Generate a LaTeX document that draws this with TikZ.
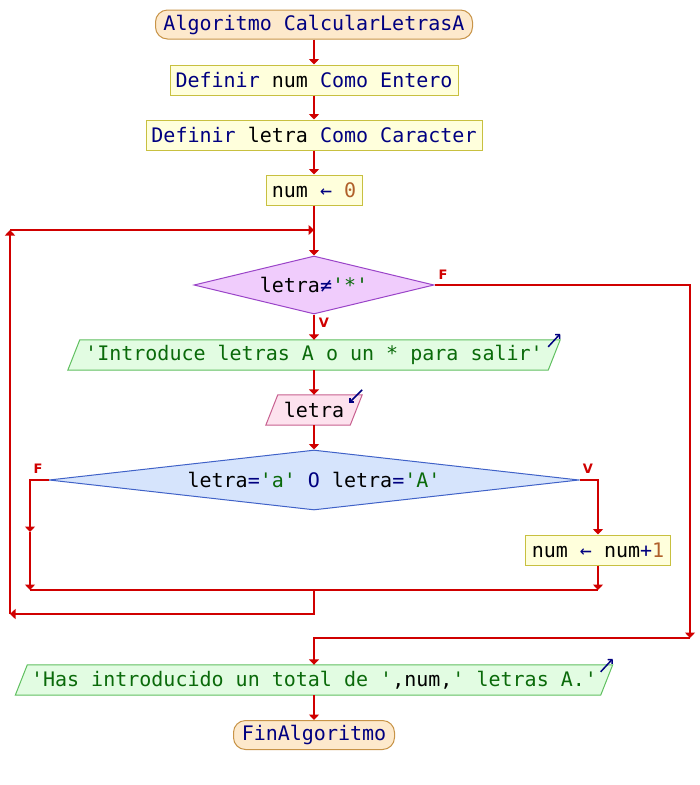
\documentclass[tikz,border=0pt]{standalone}
\usepackage{fontspec}
\setmonofont{DejaVu Sans Mono}
\setsansfont{DejaVu Sans}
\usetikzlibrary{arrows.meta,shapes.geometric,backgrounds,calc}

\definecolor{flowred}{HTML}{D00000}
\definecolor{kwblue}{HTML}{000080}
\definecolor{strgreen}{HTML}{0A6A0A}
\definecolor{numbrown}{HTML}{B0602A}
\definecolor{termfill}{HTML}{FDE9CC}
\definecolor{termline}{HTML}{C89448}
\definecolor{procfill}{HTML}{FFFFDC}
\definecolor{procline}{HTML}{C8C040}
\definecolor{dafill}{HTML}{F0CCFC}
\definecolor{daline}{HTML}{9A44C8}
\definecolor{dbfill}{HTML}{D6E4FC}
\definecolor{dbline}{HTML}{4062C8}
\definecolor{outfill}{HTML}{E2FCE2}
\definecolor{outline}{HTML}{60C060}
\definecolor{infill}{HTML}{FDE2EE}
\definecolor{inline}{HTML}{C86090}
\definecolor{iomark}{HTML}{000080}

\newcommand{\kwd}[1]{\textcolor{kwblue}{#1}}
\newcommand{\strl}[1]{\textcolor{strgreen}{#1}}
\newcommand{\numl}[1]{\textcolor{numbrown}{#1}}

\begin{document}
\begin{tikzpicture}[x=1pt,y=-1pt,
  base/.style={font=\ttfamily\fontsize{20}{22}\selectfont, inner sep=0pt, align=center},
  terminal/.style={base, draw=termline, fill=termfill, line width=1pt, rounded corners=12pt, minimum height=29pt},
  process/.style={base, draw=procline, fill=procfill, line width=1pt, minimum height=30pt},
  decision/.style={base, shape=diamond, line width=1pt},
  io/.style={base, minimum height=30pt},
  link/.style={draw=flowred, line width=2pt},
  flow/.style={link, -{Triangle[length=5.5pt,width=10pt]}},
  iotick/.style={draw=iomark, line width=1.5pt, -{Straight Barb[length=3pt,width=6pt]}},
  branch/.style={font=\sffamily\bfseries\fontsize{13}{13}\selectfont, text=flowred, inner sep=0pt}
]
\useasboundingbox (0,0) rectangle (700,785);

% ---- nodes ----
\node[terminal, minimum width=317pt] (start) at (314,24.5) {\kwd{Algoritmo CalcularLetrasA}};
\node[process, minimum width=288pt] (def1) at (314,80) {\kwd{Definir} num \kwd{Como Entero}};
\node[process, minimum width=336pt] (def2) at (314,135) {\kwd{Definir} letra \kwd{Como Caracter}};
\node[process, minimum width=96pt] (init) at (314,190) {num \kwd{←} \numl{0}};
\node[decision, aspect=4.14, draw=daline, fill=dafill, minimum width=240pt, minimum height=58pt] (cond1) at (314,285) {letra\kwd{≠}\strl{'*'}};
\node[io, minimum width=480pt] (out1) at (314,355) {\strl{'Introduce letras A o un * para salir'}};
\node[io, minimum width=84pt] (in1) at (314,410) {letra};
\node[decision, aspect=8.83, draw=dbline, fill=dbfill, minimum width=530pt, minimum height=60pt] (cond2) at (314,480) {letra\kwd{=}\strl{'a'} \kwd{O} letra\kwd{=}\strl{'A'}};
\node[process, minimum width=145pt] (inc) at (598,550) {num \kwd{←} num\kwd{+}\numl{1}};
\node[io, minimum width=585pt] (out2) at (314,680) {\strl{'Has introducido un total de '},num,\strl{' letras A.'}};
\node[terminal, minimum width=161pt] (stop) at (314,735) {\kwd{FinAlgoritmo}};

% ---- page and parallelogram bodies, kept behind the text ----
\begin{scope}[on background layer]
  \fill[white] (0,0) rectangle (700,785);
  \foreach \n/\f/\l in {out1/outfill/outline, in1/infill/inline, out2/outfill/outline}{
    \filldraw[fill=\f, draw=\l, line width=1pt]
      ($(\n.south west)+(-6,0)$) -- ($(\n.north west)+(6,0)$) --
      ($(\n.north east)+(6,0)$) -- ($(\n.south east)+(-6,0)$) -- cycle;
  }
\end{scope}

% ---- input / output marks ----
\draw[iotick] ($(out1.north east)+(-6,7)$) -- ($(out1.north east)+(6,-6)$);
\draw[iotick] ($(in1.north east)+(6,-5)$) -- ($(in1.north east)+(-7,8)$);
\draw[iotick] ($(out2.north east)+(-6,7)$) -- ($(out2.north east)+(6,-6)$);

% ---- routing points ----
\coordinate (loopin) at (314,230);
\coordinate (loopTL) at (10,230);
\coordinate (loopBL) at (10,614);
\coordinate (loopBM) at (314,614);
\coordinate (joinM) at (314,590);
\coordinate (joinL) at (30,590);
\coordinate (joinR) at (598,590);
\coordinate (fL) at (30,480);
\coordinate (fLmid) at (30,532);
\coordinate (vR) at (598,480);
\coordinate (exitT) at (690,285);
\coordinate (exitB) at (690,638);
\coordinate (exitM) at (314,638);

% ---- straight flow ----
\draw[flow] (start) -- (def1);
\draw[flow] (def1) -- (def2);
\draw[flow] (def2) -- (init);
\draw[flow] (init) -- (cond1);
\draw[flow] (cond1) -- (out1);
\draw[flow] (out1) -- (in1);
\draw[flow] (in1) -- (cond2);
\draw[flow] (out2) -- (stop);

% ---- inner decision ----
\draw[flow] (cond2.west) -- (fL) -- (fLmid);
\draw[flow] (fLmid) -- (joinL);
\draw[flow] (cond2.east) -- (vR) -- (inc.north);
\draw[flow] (inc.south) -- (joinR);
\draw[link] (joinL) -- (joinR);

% ---- loop back ----
\draw[flow] (joinM) -- (loopBM) -- (loopBL);
\draw[flow] (loopBL) -- (loopTL);
\draw[flow] (loopTL) -- (loopin);

% ---- loop exit ----
\draw[flow] (cond1.east) -- (exitT) -- (exitB);
\draw[flow] (exitB) -- (exitM) -- (out2.north);

% ---- branch labels ----
\node[branch] (fa) at (443,275) {F};
\node[branch] (va) at (324,323) {V};
\node[branch] (fb) at (38,469) {F};
\node[branch] (vb) at (588,469) {V};
\end{tikzpicture}
\end{document}
